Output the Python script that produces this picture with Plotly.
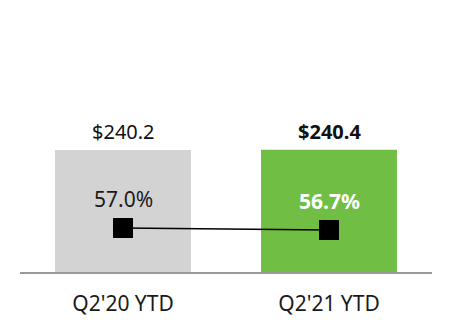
import plotly.graph_objects as go

# Data
periods = ["Q2'20 YTD", "Q2'21 YTD"]
revenue = [240.2, 240.4]          # $ values shown above the bars
margin_pct = [57.0, 56.7]         # % values on the secondary axis
bar_colors = ["#D3D3D3", "#70BF44"]
revenue_labels = ["$240.2", "<b>$240.4</b>"]
pct_labels = ["57.0%", "<b>56.7%</b>"]
pct_label_colors = ["#1a1a1a", "#ffffff"]

FONT = "Noto Sans, Open Sans, sans-serif"

fig = go.Figure()

fig.add_trace(go.Bar(
    x=periods, y=revenue,
    marker=dict(color=bar_colors, line=dict(width=0)),
    width=0.66,
    hoverinfo="skip",
))

fig.add_trace(go.Scatter(
    x=periods, y=margin_pct, yaxis="y2",
    mode="lines+markers",
    line=dict(color="#000000", width=1.6),
    marker=dict(symbol="square", size=20, color="#000000"),
    hoverinfo="skip",
))

annotations = []
for p, v, lab in zip(periods, revenue, revenue_labels):
    annotations.append(dict(
        x=p, y=v, xref="x", yref="y", text=lab, showarrow=False,
        yanchor="bottom", yshift=3,
        font=dict(family=FONT, size=20, color="#111111"),
    ))
for p, v, lab, c in zip(periods, margin_pct, pct_labels, pct_label_colors):
    annotations.append(dict(
        x=p, y=v, xref="x", yref="y2", text=lab, showarrow=False,
        yanchor="middle", yshift=29,
        font=dict(family=FONT, size=21, color=c),
    ))

fig.update_layout(
    width=452, height=332,
    margin=dict(l=20, r=20, t=0, b=60),
    paper_bgcolor="#ffffff", plot_bgcolor="#ffffff",
    showlegend=False,
    bargap=0.34,
    font=dict(family=FONT, color="#1a1a1a"),
    xaxis=dict(
        showgrid=False, zeroline=False,
        showline=True, linecolor="#9a9a9a", linewidth=2,
        ticks="", tickfont=dict(family=FONT, size=21, color="#1a1a1a"),
        ticklabelstandoff=12,
    ),
    yaxis=dict(range=[0, 535], visible=False, showgrid=False, zeroline=False),
    yaxis2=dict(range=[50.4, 91.2], overlaying="y", side="right",
                visible=False, showgrid=False, zeroline=False),
    annotations=annotations,
)

fig.write_html("out.html")
